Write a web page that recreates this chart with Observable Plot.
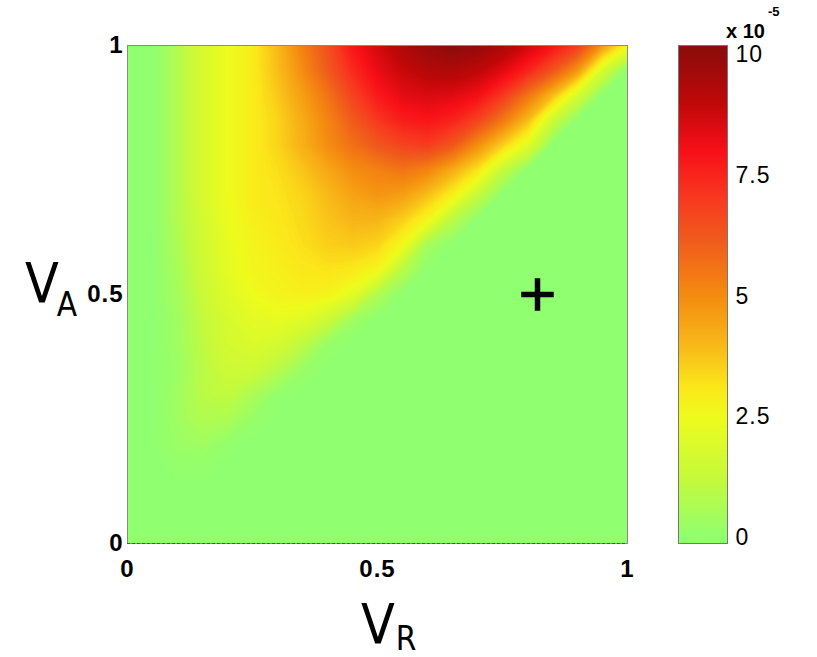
<!DOCTYPE html>
<html><head><meta charset="utf-8">
<script src="https://cdn.jsdelivr.net/npm/d3@7"></script>
<script src="https://cdn.jsdelivr.net/npm/@observablehq/plot@0.6"></script>
<style>
html,body{margin:0;padding:0;background:#fff;}
#wrap{position:relative;width:817px;height:657px;overflow:hidden;background:#fff;}
#wrap svg{position:absolute;top:0;}
#main g[aria-label="x-axis tick label"], #main g[aria-label="y-axis tick label"]{font-size:24px;font-weight:bold;}
</style></head><body><div id="wrap"></div>
<script>
// grid columns (V_R) and rows (V_A, top to bottom)
const vR = [0,0.05,0.1,0.15,0.2,0.25,0.3,0.35,0.4,0.45,0.5,0.55,0.6,0.65,0.7,0.75,0.8,0.85,0.9,0.95,1];
const vA = [1,0.95,0.9,0.85,0.8,0.75,0.7,0.65,0.6,0.55,0.5,0.45,0.4,0.35,0.3,0.25,0.2,0.15,0.1,0.05,0];
// values (x 1e-5), one row per V_A
const r100 = [0,0,0.8,1.8,2.5,3.0,4.0,5.3,6.5,7.9,8.7,9.4,9.9,10.2,10.0,9.5,8.8,8.0,7.0,4.8,2.7];
const r095 = [0,0,0.8,1.8,2.5,3.0,3.9,5.0,6.2,7.4,8.3,8.9,9.3,9.4,9.1,8.5,7.6,6.4,4.8,1.8,0];
const r090 = [0,0,0.8,1.8,2.5,3.0,3.7,4.6,5.6,6.8,7.8,8.4,8.6,8.5,8.1,7.1,5.6,4.0,1.8,0,0];
const r085 = [0,0,0.8,1.8,2.5,3.0,3.5,4.3,5.2,6.2,7.1,7.7,7.9,7.6,6.8,5.5,4.0,1.5,0,0,0];
const r080 = [0,0,0.8,1.8,2.5,3.0,3.5,4.2,5.0,5.7,6.3,6.8,7.0,6.3,5.0,3.6,2.2,0,0,0,0];
const r075 = [0,0,0.8,1.8,2.5,3.0,3.3,3.8,4.4,5.0,5.3,5.6,5.2,4.3,3.2,1.3,0,0,0,0,0];
const r070 = [0,0,0.8,1.8,2.5,3.0,3.2,3.5,4.0,4.5,4.8,4.6,3.9,2.9,1.3,0,0,0,0,0,0];
const r065 = [0,0,0.8,1.7,2.4,2.9,3.1,3.4,3.8,4.1,4.1,3.6,2.7,1.0,0,0,0,0,0,0,0];
const r060 = [0,0,0.7,1.6,2.3,2.8,3.0,3.3,3.6,3.7,3.5,2.6,0.5,0,0,0,0,0,0,0,0];
const r055 = [0,0,0.6,1.5,2.2,2.7,2.9,3.1,3.2,3.1,2.7,1.0,0,0,0,0,0,0,0,0,0];
const r050 = [0,0,0.5,1.4,2.0,2.5,2.8,2.9,2.8,2.2,0.8,0,0,0,0,0,0,0,0,0,0];
const r045 = [0,0,0.4,1.2,1.8,2.2,2.3,2.1,1.5,0.4,0,0,0,0,0,0,0,0,0,0,0];
const r040 = [0,0,0.4,1.1,1.7,1.9,1.7,1.1,0.2,0,0,0,0,0,0,0,0,0,0,0,0];
const r035 = [0,0,0.3,1.0,1.5,1.5,1.0,0.3,0,0,0,0,0,0,0,0,0,0,0,0,0];
const r030 = [0,0,0.4,1.0,1.2,0.7,0.1,0,0,0,0,0,0,0,0,0,0,0,0,0,0];
const r025 = [0,0,0.4,0.8,0.7,0.2,0,0,0,0,0,0,0,0,0,0,0,0,0,0,0];
const r020 = [0,0,0.3,0.4,0.1,0,0,0,0,0,0,0,0,0,0,0,0,0,0,0,0];
const r015 = [0,0,0.1,0.1,0,0,0,0,0,0,0,0,0,0,0,0,0,0,0,0,0];
const r010 = [0,0,0,0,0,0,0,0,0,0,0,0,0,0,0,0,0,0,0,0,0];
const r005 = [0,0,0,0,0,0,0,0,0,0,0,0,0,0,0,0,0,0,0,0,0];
const r000 = [0,0,0,0,0,0,0,0,0,0,0,0,0,0,0,0,0,0,0,0,0];
const rows = [r100,r095,r090,r085,r080,r075,r070,r065,r060,r055,r050,r045,r040,r035,r030,r025,r020,r015,r010,r005,r000];

// colormap
const colorStops = [-0.12, 0, 1.2, 2.5, 3.1, 4.0, 5.0, 6.2, 7.0, 8.0, 9.0, 10.19];
const colorRange = ["#8fff6f","#90ff70","#c4fa3c","#eefb1c","#fbe81a","#f8b818","#f48c10","#f05a1c","#f83a20","#f81018","#c00808","#8a0c0c"];
const cbDomain = [-0.12, 10.19];
const cbTicks = [0, 2.5, 5, 7.5, 10];
const axisTicks = [0, 0.5, 1];
const markerVR = [0.82];
const markerVA = [0.5];

const values = rows.flat();
const nx = vR.length, ny = vA.length;
const hx = (vR[1] - vR[0]) / 2, hy = (vA[0] - vA[1]) / 2;
const thresholds = d3.range(0, 10.3, 0.06);
const markers = markerVR.map((x, i) => ({x, y: markerVA[i]}));

const colorOpts = {type: "linear", domain: colorStops, range: colorRange};

const main = Plot.plot({
  width: 817, height: 657,
  marginLeft: 127, marginRight: 190, marginTop: 45, marginBottom: 114,
  style: {fontFamily: "'Liberation Sans', Arial, sans-serif", fontSize: "24px", fontWeight: "bold", background: "transparent", letterSpacing: "1px", color: "#000"},
  x: {domain: [0, 1], ticks: axisTicks, tickFormat: d => String(d), tickSize: 0, tickPadding: 16, label: null},
  y: {domain: [0, 1], ticks: axisTicks, tickFormat: d => String(d), tickSize: 0, tickPadding: 4, label: null},
  color: colorOpts,
  marks: [
    Plot.contour(values, {
      width: nx, height: ny,
      x1: vR[0] - hx, x2: vR[nx - 1] + hx,
      y1: vA[0] + hy, y2: vA[ny - 1] - hy,
      fill: Plot.identity, thresholds, clip: true
    }),
    Plot.frame({stroke: "#8a8a8a"}),
    Plot.ruleY([0], {stroke: "#555", strokeDasharray: "3,2"}),
    Plot.dot(markers, {x: "x", y: "y", symbol: "plus", r: 10.5, stroke: "black", strokeWidth: 5.5})
  ]
});
main.id = "main";
main.style.left = "0px";
document.getElementById("wrap").appendChild(main);

const ms = d3.select(main);
const labFont = "'Liberation Sans Narrow', 'DejaVu Sans Condensed', sans-serif";
const tR = ms.append("text").attr("x", 361).attr("y", 643).attr("text-anchor", "start").attr("font-family", labFont).attr("font-size", 55).attr("font-weight", "normal").attr("letter-spacing", 0).attr("fill", "#000").text("V");
tR.append("tspan").attr("dx", 1).attr("dy", 7).attr("font-size", 33).text("R");
const tA = ms.append("text").attr("x", 25).attr("y", 302).attr("text-anchor", "start").attr("font-family", labFont).attr("font-size", 55).attr("font-weight", "normal").attr("letter-spacing", 0).attr("fill", "#000").text("V");
tA.append("tspan").attr("dx", -2).attr("dy", 14).attr("font-size", 33).text("A");

const cb = Plot.plot({
  width: 177, height: 657,
  marginLeft: 38, marginRight: 90, marginTop: 45, marginBottom: 114,
  style: {fontFamily: "'Liberation Sans', Arial, sans-serif", fontSize: "23px", background: "transparent", letterSpacing: "1px", color: "#000"},
  x: {domain: [0, 1], axis: null},
  y: {domain: cbDomain, ticks: cbTicks, tickFormat: d => String(d), axis: "right", tickSize: 0, tickPadding: 8, label: null},
  color: colorOpts,
  marks: [
    Plot.raster({x1: 0, x2: 1, y1: cbDomain[0], y2: cbDomain[1], fill: (x, y) => y}),
    Plot.frame({stroke: "#777"})
  ]
});
cb.style.left = "640px";
document.getElementById("wrap").appendChild(cb);
const cs = d3.select(cb);
const tx = cs.append("text").attr("x", 86).attr("y", 38).attr("text-anchor", "start").attr("font-family", "'Liberation Sans', Arial, sans-serif").attr("font-size", 20).attr("font-weight", "bold").attr("letter-spacing", 0).attr("fill", "#000").text("x 10");
tx.append("tspan").attr("dx", 3).attr("dy", -22).attr("font-size", 13).text("-5");
</script></body></html>
